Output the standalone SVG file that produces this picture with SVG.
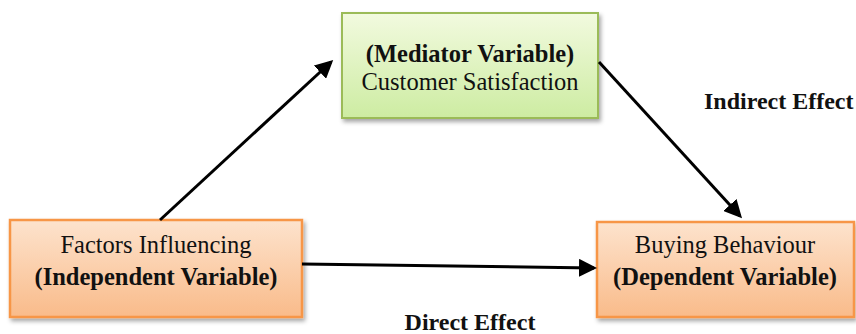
<svg xmlns="http://www.w3.org/2000/svg" width="856" height="334" viewBox="0 0 856 334">
<style>
.t{font-family:'Liberation Serif','Times New Roman',serif;font-size:24.5px;fill:#111;text-anchor:middle}
.b{font-weight:bold}
.lbl{font-family:'Liberation Serif','Times New Roman',serif;font-size:24px;font-weight:bold;fill:#111}
.c{stroke:#000;stroke-width:3;fill:none;marker-end:url(#ah)}
</style>
<defs>
<linearGradient id="gg" x1="0" y1="0" x2="0" y2="1"><stop offset="0" stop-color="#f2fadf"/><stop offset="1" stop-color="#cdeca2"/></linearGradient>
<linearGradient id="og" x1="0" y1="0" x2="0" y2="1"><stop offset="0" stop-color="#fde3cd"/><stop offset="1" stop-color="#f9bb8a"/></linearGradient>
<filter id="sh" x="-10%" y="-10%" width="130%" height="130%"><feDropShadow dx="2" dy="3" stdDeviation="2" flood-color="#000" flood-opacity="0.35"/></filter>
<marker id="ah" markerWidth="6" markerHeight="6" refX="5" refY="3" orient="auto" markerUnits="strokeWidth"><path d="M0,0 L6,3 L0,6 z" fill="#000"/></marker>
</defs>
<g id="mediator">
<rect x="342" y="13" width="256" height="105" fill="url(#gg)" stroke="#9bbb59" stroke-width="2" filter="url(#sh)"/>
<text class="t b" x="470" y="62">(Mediator Variable)</text>
<text class="t" x="470" y="90">Customer Satisfaction</text>
</g>
<g id="independent">
<rect x="10" y="220" width="292" height="97" fill="url(#og)" stroke="#f79646" stroke-width="2.5" filter="url(#sh)"/>
<text class="t" x="156" y="253">Factors Influencing</text>
<text class="t b" x="156" y="285">(Independent Variable)</text>
</g>
<g id="dependent">
<rect x="597" y="222" width="257" height="95" fill="url(#og)" stroke="#f79646" stroke-width="2.5" filter="url(#sh)"/>
<text class="t" x="725" y="253">Buying Behaviour</text>
<text class="t b" x="725" y="285">(Dependent Variable)</text>
</g>
<g id="connectors">
<line class="c" x1="160" y1="220" x2="331" y2="62"/>
<line class="c" x1="599" y1="62" x2="740" y2="216"/>
<line class="c" x1="302" y1="264" x2="594" y2="268"/>
</g>
<g id="labels">
<text class="lbl" x="704" y="109">Indirect Effect</text>
<text class="lbl" x="470" y="330" text-anchor="middle">Direct Effect</text>
</g>
</svg>
